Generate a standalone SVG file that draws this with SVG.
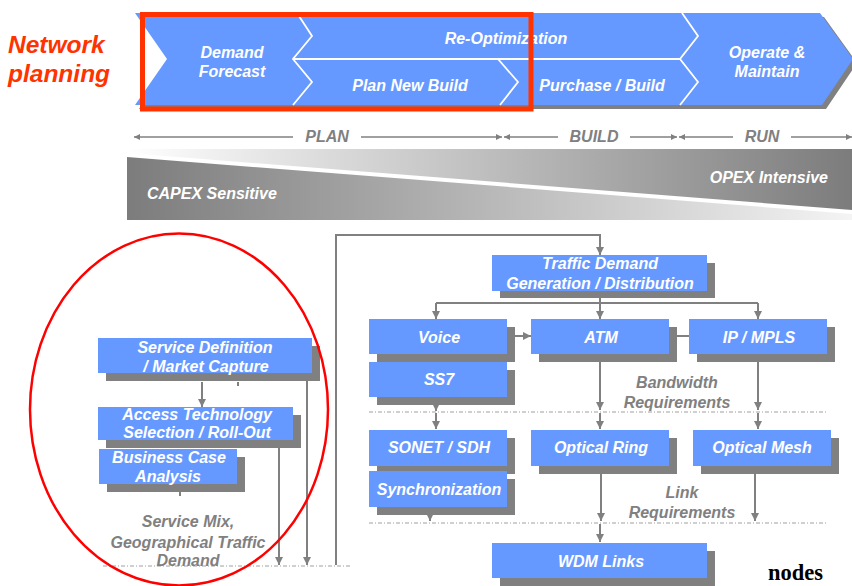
<svg xmlns="http://www.w3.org/2000/svg" width="852" height="586" viewBox="0 0 852 586">
  <style>
    .t { font-family: "Liberation Sans", Arial, sans-serif; font-weight: bold; font-style: italic; }
    .wt { fill: #ffffff; font-size: 16px; text-anchor: middle; }
    .gt { fill: #808080; font-size: 16px; text-anchor: middle; }
    .box { fill: #6699ff; }
    .sh { fill: #808080; }
    .ln { stroke: #808080; stroke-width: 2; fill: none; }
    .arr { stroke: #808080; stroke-width: 2; fill: none; marker-end: url(#ah); }
    .thin { stroke: #808080; stroke-width: 1.5; fill: none; }
    .dd { stroke: #a0a0a0; stroke-width: 1; stroke-dasharray: 4 2 1 2; fill: none; }
    .div { stroke: #ffffff; stroke-width: 1.8; fill: none; }
  </style>
  <defs>
    <marker id="ah" viewBox="0 0 8 8" refX="8" refY="4" markerWidth="8" markerHeight="8" markerUnits="userSpaceOnUse" orient="auto">
      <path d="M0,0 L8,4 L0,8 z" fill="#808080"/>
    </marker>
    <marker id="sa" viewBox="0 0 8 8" refX="8" refY="4" markerWidth="7" markerHeight="6" markerUnits="userSpaceOnUse" orient="auto-start-reverse">
      <path d="M0,0 L8,4 L0,8 z" fill="#808080"/>
    </marker>
    <linearGradient id="gLow" x1="0" y1="0" x2="1" y2="0">
      <stop offset="0" stop-color="#7c7c7c"/>
      <stop offset="1" stop-color="#f4f4f4"/>
    </linearGradient>
    <linearGradient id="gUp" x1="0" y1="0" x2="1" y2="0">
      <stop offset="0" stop-color="#ffffff"/>
      <stop offset="1" stop-color="#7c7c7c"/>
    </linearGradient>
  </defs>

  <!-- title -->
  <g id="title" class="t" fill="#ff3300" font-size="24.5px">
    <text x="8" y="53">Network</text>
    <text x="8" y="82">planning</text>
  </g>

  <!-- process banner -->
  <g id="banner">
    <polygon class="sh" points="139,17 824,17 857,63 826,109 139,109 171,63"/>
    <polygon class="box" points="135,13 820,13 853,59 822,105 135,105 167,59"/>
    <polyline class="div" points="297,13 312,36 293,59 312,82 293,105"/>
    <line class="div" x1="293" y1="59" x2="680" y2="59"/>
    <polyline class="div" points="682,13 698,36 680,59 698,82 680,105"/>
    <polyline class="div" points="498,59 518,82 500,105"/>
    <g class="t wt">
      <text x="232" y="58">Demand</text>
      <text x="232" y="77">Forecast</text>
      <text x="506" y="44">Re-Optimization</text>
      <text x="410" y="91">Plan New Build</text>
      <text x="602" y="91">Purchase / Build</text>
      <text x="767" y="58">Operate &amp;</text>
      <text x="767" y="77">Maintain</text>
    </g>
    <rect x="142.5" y="14.5" width="388.5" height="94.5" fill="none" stroke="#ff3300" stroke-width="5"/>
  </g>

  <!-- phase timeline -->
  <g id="timeline">
    <line class="thin" x1="134" y1="137" x2="293" y2="137" marker-start="url(#sa)"/>
    <line class="thin" x1="361" y1="137" x2="502" y2="137" marker-end="url(#sa)"/>
    <line class="thin" x1="504" y1="137" x2="558" y2="137" marker-start="url(#sa)"/>
    <line class="thin" x1="630" y1="137" x2="677" y2="137" marker-end="url(#sa)"/>
    <line class="thin" x1="679" y1="137" x2="733" y2="137" marker-start="url(#sa)"/>
    <line class="thin" x1="791" y1="137" x2="852" y2="137" marker-end="url(#sa)"/>
    <g class="t gt" font-size="15px">
      <text x="327" y="142">PLAN</text>
      <text x="594" y="142">BUILD</text>
      <text x="762" y="142">RUN</text>
    </g>
  </g>

  <!-- cost wedge -->
  <g id="cost-wedge">
    <polygon points="127,149 852,149 852,210 127,153" fill="url(#gUp)"/>
    <polygon points="127,157 852,214 852,220 127,220" fill="url(#gLow)"/>
    <g class="t" fill="#ffffff" font-size="16px">
      <text x="147" y="199">CAPEX Sensitive</text>
      <text x="828" y="183" text-anchor="end">OPEX Intensive</text>
    </g>
  </g>

  <!-- connectors -->
  <g id="connectors">
    <line class="arr" x1="202" y1="382" x2="202" y2="407"/>
    <line class="ln" x1="238" y1="382" x2="238" y2="386"/>
    <line class="ln" x1="180" y1="492" x2="180" y2="496"/>
    <line class="arr" x1="279" y1="448" x2="279" y2="565"/>
    <line class="arr" x1="307" y1="381" x2="307" y2="565"/>
    <polyline class="arr" points="336,565 336,235 600,235 600,255"/>
    <line class="dd" x1="103" y1="566" x2="350" y2="566"/>

    <line class="ln" x1="600" y1="298" x2="600" y2="303"/>
    <line class="ln" x1="436" y1="303" x2="758" y2="303"/>
    <line class="arr" x1="436" y1="303" x2="436" y2="319"/>
    <line class="arr" x1="600" y1="303" x2="600" y2="319"/>
    <line class="arr" x1="758" y1="303" x2="758" y2="319"/>
    <line class="arr" x1="515" y1="336" x2="531" y2="336"/>
    <line class="ln" x1="677" y1="336" x2="689" y2="336"/>

    <line class="arr" x1="436" y1="405" x2="436" y2="411"/>
    <line class="arr" x1="600" y1="362" x2="600" y2="410"/>
    <line class="arr" x1="758" y1="362" x2="758" y2="410"/>
    <line class="dd" x1="369" y1="412" x2="828" y2="412"/>
    <line class="arr" x1="436" y1="413" x2="436" y2="429"/>
    <line class="arr" x1="600" y1="413" x2="600" y2="429"/>
    <line class="arr" x1="758" y1="413" x2="758" y2="429"/>

    <line class="arr" x1="430" y1="515" x2="430" y2="521"/>
    <line class="arr" x1="601" y1="474" x2="601" y2="521"/>
    <line class="arr" x1="755" y1="474" x2="755" y2="521"/>
    <line class="dd" x1="369" y1="523" x2="828" y2="523"/>
    <line class="arr" x1="600" y1="524" x2="600" y2="542"/>
  </g>

  <!-- access / service planning nodes -->
  <g id="service-definition">
    <rect class="sh" x="106" y="346" width="214" height="35"/>
    <rect class="box" x="98" y="338" width="214" height="35"/>
    <text class="t wt" x="205" y="353">Service Definition</text>
    <text class="t wt" x="206" y="372">/ Market Capture</text>
  </g>
  <g id="access-technology">
    <rect class="sh" x="106" y="415" width="195" height="33"/>
    <rect class="box" x="98" y="407" width="195" height="33"/>
    <text class="t wt" x="197" y="420">Access Technology</text>
    <text class="t wt" x="197" y="438">Selection / Roll-Out</text>
  </g>
  <g id="business-case">
    <rect class="sh" x="107" y="457" width="138" height="35"/>
    <rect class="box" x="99" y="449" width="138" height="35"/>
    <text class="t wt" x="169" y="463">Business Case</text>
    <text class="t wt" x="168" y="482">Analysis</text>
  </g>
  <g id="service-mix" class="t gt">
    <text x="188" y="527">Service Mix,</text>
    <text x="188" y="548">Geographical Traffic</text>
    <text x="188" y="566">Demand</text>
  </g>

  <!-- transport planning nodes -->
  <g id="traffic-demand">
    <rect class="sh" x="500" y="263" width="215" height="35"/>
    <rect class="box" x="492" y="255" width="215" height="36"/>
    <text class="t wt" x="600" y="269">Traffic Demand</text>
    <text class="t wt" x="600" y="289">Generation / Distribution</text>
  </g>
  <g id="voice">
    <rect class="sh" x="377" y="327" width="138" height="35"/>
    <rect class="box" x="369" y="319" width="138" height="35"/>
    <text class="t wt" x="439" y="343">Voice</text>
  </g>
  <g id="atm">
    <rect class="sh" x="539" y="327" width="138" height="35"/>
    <rect class="box" x="531" y="319" width="138" height="35"/>
    <text class="t wt" x="601" y="343">ATM</text>
  </g>
  <g id="ip-mpls">
    <rect class="sh" x="697" y="327" width="138" height="35"/>
    <rect class="box" x="689" y="319" width="138" height="35"/>
    <text class="t wt" x="759" y="343">IP / MPLS</text>
  </g>
  <g id="ss7">
    <rect class="sh" x="377" y="370" width="138" height="35"/>
    <rect class="box" x="369" y="362" width="138" height="35"/>
    <text class="t wt" x="439" y="385">SS7</text>
  </g>
  <g id="bandwidth-label" class="t gt">
    <text x="677" y="388">Bandwidth</text>
    <text x="677" y="408">Requirements</text>
  </g>
  <g id="sonet-sdh">
    <rect class="sh" x="377" y="438" width="138" height="36"/>
    <rect class="box" x="369" y="430" width="138" height="36"/>
    <text class="t wt" x="439" y="453">SONET / SDH</text>
  </g>
  <g id="optical-ring">
    <rect class="sh" x="539" y="438" width="138" height="36"/>
    <rect class="box" x="531" y="430" width="138" height="36"/>
    <text class="t wt" x="601" y="453">Optical Ring</text>
  </g>
  <g id="optical-mesh">
    <rect class="sh" x="701" y="438" width="138" height="36"/>
    <rect class="box" x="693" y="430" width="138" height="36"/>
    <text class="t wt" x="762" y="453">Optical Mesh</text>
  </g>
  <g id="synchronization">
    <rect class="sh" x="377" y="479" width="138" height="36"/>
    <rect class="box" x="369" y="471" width="138" height="36"/>
    <text class="t wt" x="439" y="495">Synchronization</text>
  </g>
  <g id="link-label" class="t gt">
    <text x="682" y="498">Link</text>
    <text x="682" y="518">Requirements</text>
  </g>
  <g id="wdm-links">
    <rect class="sh" x="500" y="551" width="215" height="35"/>
    <rect class="box" x="492" y="543" width="215" height="35"/>
    <text class="t wt" x="601" y="567">WDM Links</text>
  </g>

  <text x="768" y="580" font-family="'Liberation Serif', 'Times New Roman', serif" font-weight="bold" font-size="22.5px" fill="#000000">nodes</text>

  <!-- highlight ring -->
  <ellipse cx="179" cy="409.5" rx="149" ry="176" fill="none" stroke="#ff0000" stroke-width="2.5"/>
</svg>
